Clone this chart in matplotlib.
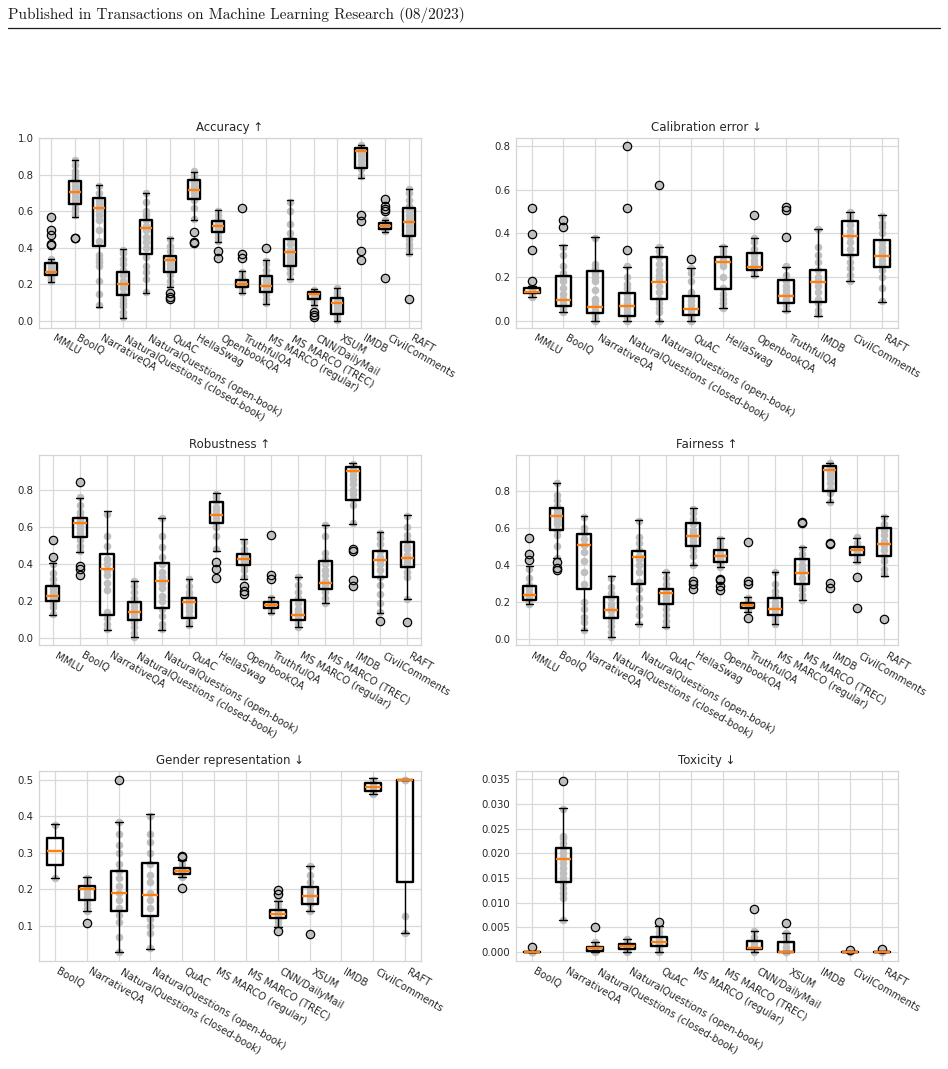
import numpy as np
import matplotlib.pyplot as plt
import seaborn as sns
from matplotlib.lines import Line2D

sns.set_style('whitegrid')
plt.rcParams['font.family'] = ['DejaVu Sans']

# ---------------- Accuracy ----------------
acc_labels = ['MMLU', 'BoolQ', 'NarrativeQA', 'NaturalQuestions (closed-book)',
              'NaturalQuestions (open-book)', 'QuAC', 'HellaSwag', 'OpenbookQA',
              'TruthfulQA', 'MS MARCO (regular)', 'MS MARCO (TREC)', 'CNN/DailyMail',
              'XSUM', 'IMDB', 'CivilComments', 'RAFT']
acc_med = [0.268, 0.704, 0.615, 0.203, 0.509, 0.332, 0.717, 0.520, 0.203, 0.193, 0.378, 0.146, 0.097, 0.927, 0.520, 0.540]
acc_q1 = [0.252, 0.639, 0.411, 0.142, 0.367, 0.266, 0.668, 0.484, 0.188, 0.161, 0.303, 0.119, 0.038, 0.836, 0.504, 0.467]
acc_q3 = [0.316, 0.763, 0.672, 0.266, 0.553, 0.356, 0.772, 0.547, 0.224, 0.248, 0.449, 0.161, 0.124, 0.945, 0.535, 0.617]
acc_lo = [0.215, 0.571, 0.078, 0.015, 0.155, 0.188, 0.553, 0.434, 0.155, 0.093, 0.228, 0.090, 0.002, 0.781, 0.489, 0.367]
acc_hi = [0.340, 0.881, 0.745, 0.392, 0.699, 0.453, 0.814, 0.608, 0.274, 0.334, 0.662, 0.175, 0.179, 0.963, 0.553, 0.721]
acc_fliers = [[0.415, 0.42, 0.47, 0.50, 0.57], [0.453, 0.455], [], [], [],
              [0.151, 0.133, 0.119], [0.484, 0.434, 0.429], [0.385, 0.347],
              [0.620, 0.367, 0.343], [0.398], [], [0.051, 0.033, 0.020], [],
              [0.580, 0.549, 0.380, 0.334], [0.666, 0.626, 0.611, 0.599, 0.234], [0.119]]
acc_points = [[0.22, 0.23, 0.24, 0.25, 0.26, 0.27, 0.28, 0.29, 0.30, 0.31, 0.32, 0.33, 0.34],
              [0.58, 0.60, 0.62, 0.64, 0.66, 0.68, 0.70, 0.72, 0.74, 0.76, 0.78, 0.80, 0.82, 0.85, 0.88],
              [0.09, 0.15, 0.22, 0.30, 0.32, 0.34, 0.36, 0.44, 0.50, 0.55, 0.58, 0.60, 0.62, 0.64, 0.66, 0.70, 0.74],
              [0.02, 0.05, 0.08, 0.10, 0.12, 0.15, 0.18, 0.20, 0.22, 0.25, 0.28, 0.31, 0.34, 0.37, 0.39],
              [0.16, 0.23, 0.27, 0.30, 0.35, 0.40, 0.43, 0.46, 0.50, 0.52, 0.55, 0.58, 0.60, 0.65, 0.70],
              [0.19, 0.22, 0.25, 0.27, 0.29, 0.31, 0.33, 0.34, 0.35, 0.38, 0.41, 0.45],
              [0.56, 0.62, 0.66, 0.68, 0.70, 0.72, 0.74, 0.76, 0.78, 0.80, 0.82],
              [0.44, 0.46, 0.48, 0.50, 0.51, 0.52, 0.53, 0.54, 0.56, 0.58, 0.60],
              [0.16, 0.18, 0.19, 0.20, 0.21, 0.22, 0.24, 0.27],
              [0.10, 0.12, 0.15, 0.17, 0.19, 0.21, 0.23, 0.25, 0.28, 0.31, 0.33],
              [0.23, 0.26, 0.29, 0.31, 0.33, 0.35, 0.37, 0.39, 0.42, 0.45, 0.48, 0.53, 0.60, 0.65],
              [0.09, 0.11, 0.12, 0.13, 0.14, 0.15, 0.16, 0.17],
              [0.005, 0.02, 0.04, 0.06, 0.08, 0.10, 0.12, 0.14, 0.16, 0.18],
              [0.79, 0.83, 0.86, 0.88, 0.90, 0.92, 0.93, 0.94, 0.95, 0.96],
              [0.49, 0.50, 0.51, 0.52, 0.53, 0.54, 0.55],
              [0.37, 0.40, 0.42, 0.45, 0.48, 0.50, 0.52, 0.54, 0.56, 0.58, 0.60, 0.63, 0.66, 0.70, 0.72]]

# ---------------- Calibration error ----------------
cal_labels = ['MMLU', 'BoolQ', 'NarrativeQA', 'NaturalQuestions (closed-book)',
              'NaturalQuestions (open-book)', 'QuAC', 'HellaSwag', 'OpenbookQA',
              'TruthfulQA', 'IMDB', 'CivilComments', 'RAFT']
cal_med = [0.129, 0.095, 0.061, 0.067, 0.175, 0.052, 0.271, 0.248, 0.115, 0.179, 0.389, 0.297]
cal_q1 = [0.126, 0.067, 0.037, 0.023, 0.100, 0.026, 0.146, 0.233, 0.080, 0.084, 0.302, 0.245]
cal_q3 = [0.149, 0.205, 0.228, 0.126, 0.294, 0.115, 0.294, 0.310, 0.187, 0.233, 0.458, 0.371]
cal_lo = [0.110, 0.041, 0.0, 0.0, 0.0, 0.0, 0.057, 0.205, 0.044, 0.023, 0.182, 0.084]
cal_hi = [0.160, 0.348, 0.383, 0.248, 0.340, 0.241, 0.343, 0.379, 0.248, 0.421, 0.497, 0.486]
cal_fliers = [[0.182, 0.325, 0.398, 0.516], [0.463, 0.429], [], [0.325, 0.516, 0.80],
              [0.624], [0.282], [], [0.486], [0.382, 0.509, 0.520], [], [], []]
cal_points = [[0.11, 0.12, 0.13, 0.14, 0.15, 0.16],
              [0.04, 0.06, 0.08, 0.10, 0.12, 0.15, 0.18, 0.20, 0.22, 0.25, 0.30, 0.34],
              [0.0, 0.01, 0.03, 0.05, 0.07, 0.09, 0.10, 0.14, 0.18, 0.20, 0.22, 0.24, 0.26, 0.38],
              [0.0, 0.01, 0.02, 0.04, 0.06, 0.08, 0.10, 0.12, 0.15, 0.17, 0.20, 0.25],
              [0.0, 0.04, 0.06, 0.08, 0.10, 0.13, 0.16, 0.19, 0.21, 0.23, 0.26, 0.29, 0.32, 0.34],
              [0.0, 0.01, 0.02, 0.03, 0.05, 0.07, 0.09, 0.11, 0.13, 0.18, 0.22, 0.24],
              [0.06, 0.08, 0.10, 0.12, 0.15, 0.20, 0.25, 0.27, 0.28, 0.30, 0.32, 0.34],
              [0.21, 0.23, 0.24, 0.25, 0.26, 0.28, 0.30, 0.33, 0.36, 0.38],
              [0.05, 0.07, 0.09, 0.10, 0.12, 0.14, 0.16, 0.18, 0.21, 0.25],
              [0.03, 0.05, 0.08, 0.10, 0.13, 0.16, 0.18, 0.20, 0.23, 0.27, 0.30, 0.34, 0.42],
              [0.18, 0.21, 0.24, 0.27, 0.30, 0.33, 0.36, 0.39, 0.41, 0.44, 0.46, 0.48, 0.50],
              [0.09, 0.15, 0.20, 0.23, 0.26, 0.28, 0.30, 0.32, 0.34, 0.36, 0.40, 0.43, 0.45, 0.48]]

# ---------------- Robustness ----------------
rob_labels = ['MMLU', 'BoolQ', 'NarrativeQA', 'NaturalQuestions (closed-book)',
              'NaturalQuestions (open-book)', 'QuAC', 'HellaSwag', 'OpenbookQA',
              'TruthfulQA', 'MS MARCO (regular)', 'MS MARCO (TREC)', 'IMDB',
              'CivilComments', 'RAFT']
rob_med = [0.226, 0.624, 0.374, 0.143, 0.308, 0.196, 0.663, 0.428, 0.178, 0.128, 0.298, 0.900, 0.422, 0.431]
rob_q1 = [0.201, 0.549, 0.128, 0.098, 0.164, 0.112, 0.624, 0.396, 0.166, 0.098, 0.264, 0.745, 0.333, 0.383]
rob_q3 = [0.285, 0.651, 0.455, 0.196, 0.405, 0.219, 0.736, 0.455, 0.196, 0.205, 0.419, 0.922, 0.469, 0.522]
rob_lo = [0.125, 0.463, 0.045, 0.009, 0.045, 0.066, 0.472, 0.321, 0.137, 0.062, 0.191, 0.615, 0.137, 0.210]
rob_hi = [0.405, 0.758, 0.686, 0.307, 0.651, 0.321, 0.784, 0.535, 0.223, 0.333, 0.610, 0.945, 0.574, 0.663]
rob_fliers = [[0.437, 0.531], [0.392, 0.374, 0.339, 0.843], [], [], [], [],
              [0.410, 0.374, 0.324], [0.280, 0.258, 0.241], [0.339, 0.321, 0.558],
              [], [], [0.481, 0.472, 0.312, 0.282], [0.093], [0.089]]
rob_points = [[0.13, 0.17, 0.19, 0.21, 0.22, 0.23, 0.25, 0.27, 0.29, 0.32, 0.35, 0.40],
              [0.47, 0.50, 0.53, 0.55, 0.57, 0.59, 0.61, 0.62, 0.63, 0.64, 0.66, 0.68, 0.72, 0.76],
              [0.05, 0.08, 0.11, 0.14, 0.26, 0.30, 0.34, 0.37, 0.40, 0.43, 0.50, 0.55, 0.67],
              [0.01, 0.03, 0.06, 0.09, 0.11, 0.13, 0.15, 0.17, 0.19, 0.22, 0.25, 0.28, 0.31],
              [0.05, 0.08, 0.12, 0.16, 0.20, 0.23, 0.27, 0.30, 0.33, 0.36, 0.40, 0.44, 0.49, 0.55, 0.65],
              [0.07, 0.09, 0.12, 0.15, 0.17, 0.19, 0.21, 0.23, 0.25, 0.28, 0.32],
              [0.48, 0.55, 0.60, 0.63, 0.65, 0.67, 0.69, 0.71, 0.74, 0.76, 0.78],
              [0.33, 0.37, 0.39, 0.41, 0.42, 0.43, 0.44, 0.46, 0.48, 0.52],
              [0.14, 0.16, 0.17, 0.18, 0.19, 0.20, 0.22],
              [0.06, 0.08, 0.10, 0.12, 0.14, 0.16, 0.19, 0.22, 0.25, 0.29, 0.33],
              [0.19, 0.22, 0.25, 0.27, 0.29, 0.31, 0.34, 0.37, 0.40, 0.43, 0.46, 0.55, 0.61],
              [0.62, 0.72, 0.75, 0.78, 0.80, 0.83, 0.86, 0.88, 0.90, 0.92, 0.94],
              [0.14, 0.19, 0.24, 0.29, 0.33, 0.37, 0.40, 0.42, 0.44, 0.47, 0.51, 0.54, 0.57],
              [0.21, 0.33, 0.36, 0.39, 0.41, 0.43, 0.45, 0.48, 0.50, 0.53, 0.56, 0.60, 0.66]]

# ---------------- Fairness ----------------
fair_labels = rob_labels
fair_med = [0.236, 0.666, 0.509, 0.155, 0.441, 0.248, 0.554, 0.450, 0.182, 0.161, 0.357, 0.914, 0.482, 0.516]
fair_q1 = [0.209, 0.589, 0.271, 0.116, 0.295, 0.191, 0.504, 0.414, 0.170, 0.129, 0.298, 0.798, 0.455, 0.450]
fair_q3 = [0.289, 0.705, 0.566, 0.227, 0.477, 0.271, 0.629, 0.480, 0.195, 0.221, 0.432, 0.936, 0.495, 0.598]
fair_lo = [0.191, 0.438, 0.048, 0.009, 0.084, 0.066, 0.402, 0.391, 0.146, 0.080, 0.213, 0.739, 0.414, 0.343]
fair_hi = [0.393, 0.843, 0.664, 0.339, 0.641, 0.361, 0.705, 0.545, 0.227, 0.361, 0.495, 0.950, 0.548, 0.664]
fair_fliers = [[0.427, 0.459, 0.545], [0.414, 0.382, 0.373], [], [], [], [],
               [0.316, 0.298, 0.271], [0.325, 0.320, 0.289, 0.266],
               [0.316, 0.295, 0.114, 0.525], [], [0.634, 0.625],
               [0.521, 0.512, 0.304, 0.275], [0.334, 0.168], [0.107]]
fair_points = [[0.19, 0.20, 0.21, 0.22, 0.23, 0.25, 0.27, 0.29, 0.33, 0.38],
               [0.44, 0.50, 0.56, 0.59, 0.62, 0.64, 0.66, 0.68, 0.70, 0.72, 0.75, 0.78, 0.84],
               [0.05, 0.09, 0.12, 0.16, 0.20, 0.30, 0.36, 0.42, 0.47, 0.51, 0.54, 0.57, 0.60, 0.66],
               [0.01, 0.04, 0.07, 0.10, 0.12, 0.15, 0.17, 0.19, 0.22, 0.25, 0.28, 0.33],
               [0.08, 0.13, 0.17, 0.22, 0.27, 0.31, 0.36, 0.40, 0.43, 0.45, 0.48, 0.52, 0.55, 0.64],
               [0.07, 0.10, 0.13, 0.16, 0.19, 0.21, 0.23, 0.25, 0.27, 0.30, 0.33, 0.36],
               [0.40, 0.45, 0.48, 0.51, 0.53, 0.55, 0.57, 0.59, 0.62, 0.65, 0.68, 0.70],
               [0.39, 0.41, 0.43, 0.44, 0.45, 0.46, 0.48, 0.50, 0.52, 0.54],
               [0.15, 0.16, 0.17, 0.18, 0.19, 0.20, 0.22],
               [0.08, 0.10, 0.12, 0.14, 0.16, 0.18, 0.20, 0.23, 0.26, 0.30, 0.36],
               [0.21, 0.24, 0.27, 0.30, 0.33, 0.36, 0.38, 0.40, 0.43, 0.46, 0.49],
               [0.74, 0.79, 0.81, 0.84, 0.87, 0.89, 0.91, 0.92, 0.93, 0.94, 0.95],
               [0.42, 0.44, 0.46, 0.47, 0.48, 0.49, 0.50, 0.52, 0.55],
               [0.35, 0.38, 0.42, 0.45, 0.48, 0.51, 0.53, 0.56, 0.59, 0.62, 0.66]]

# ---------------- Gender representation ----------------
gen_labels = ['BoolQ', 'NarrativeQA', 'NaturalQuestions (closed-book)',
              'NaturalQuestions (open-book)', 'QuAC', 'MS MARCO (regular)',
              'MS MARCO (TREC)', 'CNN/DailyMail', 'XSUM', 'IMDB', 'CivilComments', 'RAFT']
gen_med = [0.304, 0.201, 0.190, 0.185, 0.251, None, None, 0.132, 0.182, None, 0.479, 0.500]
gen_q1 = [0.267, 0.171, 0.141, 0.126, 0.242, None, None, 0.122, 0.159, None, 0.468, 0.219]
gen_q3 = [0.340, 0.210, 0.251, 0.271, 0.258, None, None, 0.143, 0.206, None, 0.491, 0.500]
gen_lo = [0.231, 0.140, 0.029, 0.036, 0.233, None, None, 0.097, 0.141, None, 0.461, 0.081]
gen_hi = [0.378, 0.233, 0.385, 0.407, 0.280, None, None, 0.168, 0.265, None, 0.503, 0.500]
gen_fliers = [[], [0.108], [0.500], [], [0.292, 0.287, 0.203], [], [],
              [0.197, 0.188, 0.086], [0.079], [], [], []]
gen_points = [[0.231, 0.376],
              [0.14, 0.15, 0.16, 0.17, 0.18, 0.19, 0.20, 0.21, 0.22, 0.23],
              [0.03, 0.07, 0.11, 0.13, 0.15, 0.17, 0.19, 0.21, 0.23, 0.25, 0.27, 0.30, 0.32, 0.35, 0.385],
              [0.04, 0.08, 0.10, 0.12, 0.15, 0.17, 0.19, 0.22, 0.24, 0.27, 0.30, 0.33, 0.35, 0.40],
              [0.233, 0.24, 0.245, 0.25, 0.255, 0.26, 0.27, 0.28],
              [], [],
              [0.10, 0.11, 0.12, 0.13, 0.14, 0.15, 0.16, 0.17],
              [0.14, 0.16, 0.17, 0.18, 0.19, 0.20, 0.22, 0.24, 0.265],
              [],
              [0.46, 0.47, 0.48, 0.49, 0.50],
              [0.081, 0.126, 0.50, 0.50]]

# ---------------- Toxicity ----------------
tox_labels = gen_labels
tox_med = [0.0, 0.01887, 0.00074, 0.00134, 0.00207, None, None, 0.00074, 0.0, None, 0.0, 0.0]
tox_q1 = [0.0, 0.0141, 0.00027, 0.00054, 0.0012, None, None, 0.0006, 0.0, None, 0.0, 0.0]
tox_q3 = [0.0, 0.0210, 0.00107, 0.00174, 0.00308, None, None, 0.0022, 0.0021, None, 0.0, 0.0]
tox_lo = [0.0, 0.00656, 0.0, 0.0, 0.0, None, None, 0.0, 0.0, None, 0.0, 0.0]
tox_hi = [0.0, 0.0292, 0.0020, 0.00274, 0.0052, None, None, 0.00435, 0.0039, None, 0.0, 0.0]
tox_fliers = [[0.00107], [0.0347], [0.0051], [], [0.0060], [], [], [0.00863], [0.0058],
              [], [0.0004], [0.00067]]
tox_points = [[0.0, 0.0, 0.0],
              [0.0066, 0.011, 0.012, 0.013, 0.014, 0.015, 0.016, 0.017, 0.018, 0.019,
               0.020, 0.021, 0.022, 0.023, 0.0235, 0.029],
              [0.0, 0.0003, 0.0005, 0.0008, 0.001, 0.0015, 0.002],
              [0.0, 0.0005, 0.001, 0.0013, 0.0016, 0.002, 0.0027],
              [0.0, 0.0008, 0.0012, 0.0016, 0.002, 0.0024, 0.0028, 0.0032, 0.004, 0.005],
              [], [],
              [0.0, 0.0004, 0.0007, 0.001, 0.0015, 0.002, 0.003, 0.0043],
              [0.0, 0.0, 0.0003, 0.001, 0.002, 0.003, 0.0039],
              [],
              [0.0, 0.0],
              [0.0, 0.0]]

TEXT = '#262626'


def draw_panel(ax, title, labels, med, q1, q3, lo, hi, fliers, points, ylim, yticks, fmt):
    stats, pos = [], []
    px, py = [], []
    for i in range(len(labels)):
        if med[i] is None:
            continue
        stats.append(dict(med=med[i], q1=q1[i], q3=q3[i], whislo=lo[i], whishi=hi[i],
                          fliers=fliers[i]))
        pos.append(i + 1)
        vals = points[i] + fliers[i]
        px += [i + 1] * len(vals)
        py += vals
    ax.scatter(px, py, s=30, color='#bfbfbf', linewidths=0, zorder=2)
    ax.bxp(stats, positions=pos, widths=0.5, manage_ticks=False, zorder=3,
           boxprops=dict(color='black', linewidth=1.7),
           whiskerprops=dict(color='black', linewidth=1.0),
           capprops=dict(color='black', linewidth=1.0),
           medianprops=dict(color='#ff7f0e', linewidth=1.7),
           flierprops=dict(marker='o', markerfacecolor='none', markeredgecolor='black',
                           markersize=6, markeredgewidth=0.9))
    ax.set_xticks(np.arange(1, len(labels) + 1))
    ax.set_xticklabels(labels, rotation=-30, ha='left', fontsize=7.3, color=TEXT)
    ax.set_xlim(0.5, len(labels) + 0.5)
    ax.set_ylim(*ylim)
    ax.set_yticks(yticks)
    ax.set_yticklabels([fmt % t for t in yticks], fontsize=7.3, color=TEXT)
    ax.tick_params(axis='both', length=0, pad=4)
    ax.set_title(title, fontsize=8.5, color=TEXT, pad=5)
    ax.grid(True, color='#d9d9d9', linewidth=0.9)
    for s in ax.spines.values():
        s.set_color('#d4d4d4')
        s.set_linewidth(0.9)


fig = plt.figure(figsize=(9.48, 10.69), dpi=100)

col_left = [0.0411, 0.544]
row_bottom = [0.6932, 0.3966, 0.1010]
W, H = 0.403, 0.178

ax1 = fig.add_axes([col_left[0], row_bottom[0], W, H])
ax2 = fig.add_axes([col_left[1], row_bottom[0], W, H])
ax3 = fig.add_axes([col_left[0], row_bottom[1], W, H])
ax4 = fig.add_axes([col_left[1], row_bottom[1], W, H])
ax5 = fig.add_axes([col_left[0], row_bottom[2], W, H])
ax6 = fig.add_axes([col_left[1], row_bottom[2], W, H])

draw_panel(ax1, 'Accuracy \u2191', acc_labels, acc_med, acc_q1, acc_q3, acc_lo, acc_hi,
           acc_fliers, acc_points, (-0.038, 1.002), np.arange(0, 1.01, 0.2), '%.1f')
draw_panel(ax2, 'Calibration error \u2193', cal_labels, cal_med, cal_q1, cal_q3, cal_lo, cal_hi,
           cal_fliers, cal_points, (-0.034, 0.84), np.arange(0, 0.81, 0.2), '%.1f')
draw_panel(ax3, 'Robustness \u2191', rob_labels, rob_med, rob_q1, rob_q3, rob_lo, rob_hi,
           rob_fliers, rob_points, (-0.036, 0.99), np.arange(0, 0.81, 0.2), '%.1f')
draw_panel(ax4, 'Fairness \u2191', fair_labels, fair_med, fair_q1, fair_q3, fair_lo, fair_hi,
           fair_fliers, fair_points, (-0.032, 0.995), np.arange(0, 0.81, 0.2), '%.1f')
draw_panel(ax5, 'Gender representation \u2193', gen_labels, gen_med, gen_q1, gen_q3, gen_lo, gen_hi,
           gen_fliers, gen_points, (0.004, 0.524), np.arange(0.1, 0.51, 0.1), '%.1f')
draw_panel(ax6, 'Toxicity \u2193', tox_labels, tox_med, tox_q1, tox_q3, tox_lo, tox_hi,
           tox_fliers, tox_points, (-0.0018, 0.0367), np.arange(0, 0.0351, 0.005), '%.3f')

# page header
fig.text(8 / 948, 1 - 19 / 1069, 'Published in Transactions on Machine Learning Research (08/2023)',
         family='cmr10', fontsize=11.0, color='#1a1a1a', ha='left', va='baseline')
fig.add_artist(Line2D([8 / 948, 940 / 948], [1 - 28 / 1069, 1 - 28 / 1069],
                      transform=fig.transFigure, color='#1a1a1a', linewidth=0.9))

fig.savefig('out.png', dpi=100)
